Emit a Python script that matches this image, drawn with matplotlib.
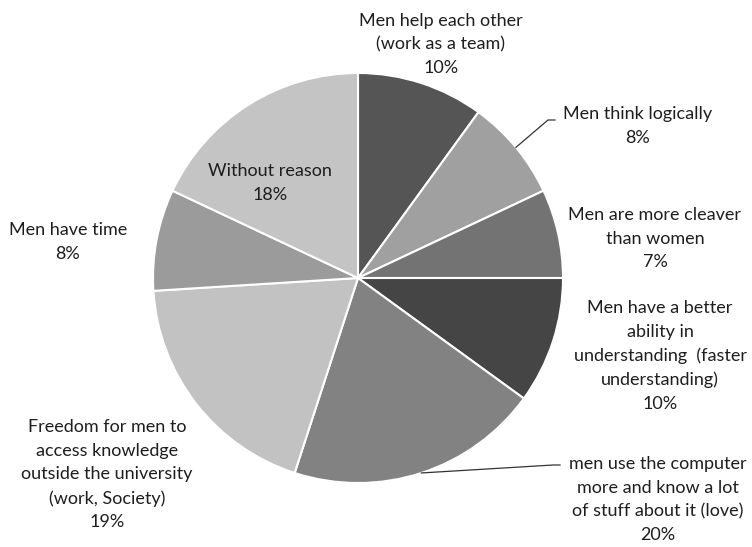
import numpy as np
import matplotlib.pyplot as plt

# survey answers, clockwise from 12 o'clock
reasons = [
    "Men help each other\n(work as a team)",
    "Men think logically",
    "Men are more cleaver\nthan women",
    "Men have a better\nability in\nunderstanding  (faster\nunderstanding)",
    "men use the computer\nmore and know a lot\nof stuff about it (love)",
    "Freedom for men to\naccess knowledge\noutside the university\n(work, Society)",
    "Men have time",
    "Without reason",
]
shares = [10, 8, 7, 10, 20, 19, 8, 18]
greys = ["#555555", "#a0a0a0", "#737373", "#454545",
         "#828282", "#c2c2c2", "#9b9b9b", "#c4c4c4"]

W, H = 752, 547
fig = plt.figure(figsize=(W / 100, H / 100), dpi=100)
ax = fig.add_axes([0, 0, 1, 1])

cx, cy, r = 358, H - 278, 205
wedges, _ = ax.pie(shares, colors=greys, startangle=90, counterclock=False,
                   center=(cx, cy), radius=r, frame=True,
                   wedgeprops=dict(edgecolor="white", linewidth=1.5))
ax.set_xlim(0, W)
ax.set_ylim(0, H)
ax.set_aspect("equal")
ax.axis("off")

# label anchor points (x, first-line y in pixels from top)
label_pos = [(441, 20), (638, 113), (655, 214), (660, 307),
             (658, 463), (107, 426), (68, 229), (270, 170)]
font = dict(family=["Lato", "DejaVu Sans"], fontsize=13, color="#1e1e1e",
            ha="center", va="top", linespacing=1.58)
for name, val, (lx, ly) in zip(reasons, shares, label_pos):
    ax.text(lx, H - ly + 7, f"{name}\n{val}%", **font)

# leader lines for the two labels that sit away from their slices
for i, (bx, by), ex in [(1, (548, 120), 555), (4, (553, 465), 560)]:
    w = wedges[i]
    mid = np.deg2rad((w.theta1 + w.theta2) / 2)
    sx, sy = cx + r * np.cos(mid), cy + r * np.sin(mid)
    ax.plot([sx, bx, ex], [sy, H - by, H - by], color="#333333", lw=0.9)

fig.savefig("out.png", dpi=100, facecolor="white")
